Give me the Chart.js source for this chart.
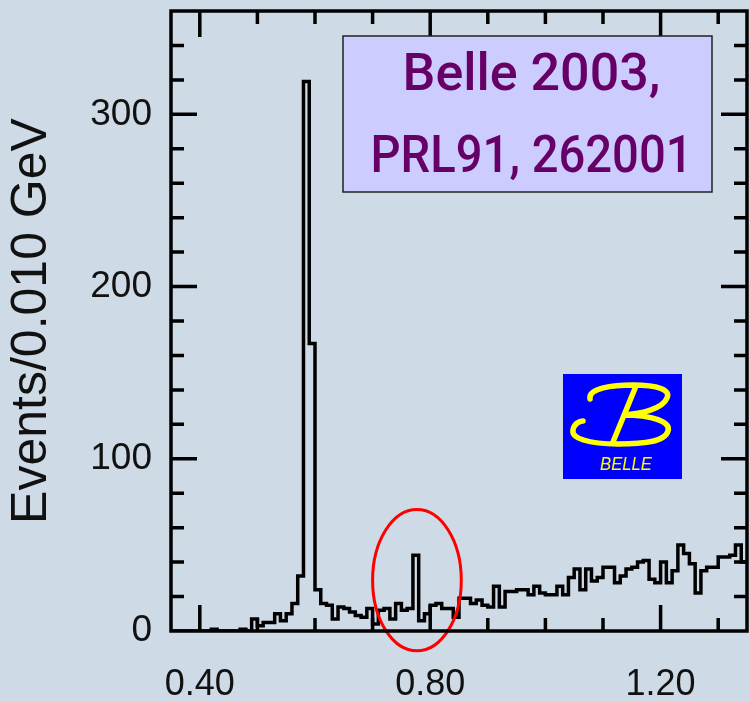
<!DOCTYPE html>
<html><head><meta charset="utf-8">
<script src="https://cdn.jsdelivr.net/npm/chart.js@4/dist/chart.umd.min.js"></script>
<style>
html,body{margin:0;padding:0;background:#cedae6;overflow:hidden;}
#c{display:block;}
</style></head>
<body>
<canvas id="c" width="750" height="702"></canvas>
<script>
// ---- data ----
const massStart = [
 0.35,0.36,0.37,0.38,0.39,0.40,0.41,0.42,0.43,0.44,
 0.45,0.46,0.47,0.48,0.49,0.50,0.51,0.52,0.53,0.54,
 0.55,0.56,0.57,0.58,0.59,0.60,0.61,0.62,0.63,0.64,
 0.65,0.66,0.67,0.68,0.69,0.70,0.71,0.72,0.73,0.74,
 0.75,0.76,0.77,0.78,0.79,0.80,0.81,0.82,0.83,0.84,
 0.85,0.86,0.87,0.88,0.89,0.90,0.91,0.92,0.93,0.94,
 0.95,0.96,0.97,0.98,0.99,1.00,1.01,1.02,1.03,1.04,
 1.05,1.06,1.07,1.08,1.09,1.10,1.11,1.12,1.13,1.14,
 1.15,1.16,1.17,1.18,1.19,1.20,1.21,1.22,1.23,1.24,
 1.25,1.26,1.27,1.28,1.29,1.30,1.31,1.32,1.33,1.34];
const binWidth = 0.01;
const events = [
 0,0,0,0,0,0,0,1,0,0,
 0,0,1,0,7,3,5,5,10,6,
 10,16,32,319,167,24,16,15,7,14,
 13,11,9,8,13,4,12,13,7,16,
 12,13,44,6,10,15,16,13,13,8,
 19,19,16,18,15,14,26,14,23,23,
 24,24,21,26,22,21,21,26,21,31,
 36,24,36,29,31,37,37,28,32,36,
 37,40,41,30,28,40,28,35,50,45,
 39,22,35,37,37,43,43,44,50,40];

const xMinorTicks = [0.4,0.5,0.6,0.7,0.8,0.9,1.0,1.1,1.2,1.3];
const xLabelValues = [0.4,0.8,1.2];
const xTickLabels = ['0.40','0.80','1.20'];
const yMinorTicks = [20,40,60,80,100,120,140,160,180,200,220,240,260,280,300,320,340];
const yLabelValues = [0,100,200,300];
const yTickLabels = ['0','100','200','300'];
const yTitle = 'Events/0.010 GeV';
const boxLines = ['Belle 2003,', 'PRL91, 262001'];
const logoText = 'BELLE';
// highlighted region (data units)
const highlight = {mass:0.777, events:29.5, halfMass:0.077, halfEvents:41};

const points = massStart.map((m,i)=>({x:m, y:events[i]}));
points.push({x: massStart[massStart.length-1] + binWidth, y: events[events.length-1]});

const BG = '#cedae6';
const FONT = '"Liberation Sans", Arial, Helvetica, sans-serif';

const decor = {
  id:'decor',
  beforeDraw(chart){
    const c = chart.ctx;
    c.save(); c.fillStyle = BG; c.fillRect(0,0,chart.width,chart.height); c.restore();
  },
  afterDatasetsDraw(chart){
    const c = chart.ctx, a = chart.chartArea, xs = chart.scales.x, ys = chart.scales.y;
    c.save();
    // red ellipse
    const cx = xs.getPixelForValue(highlight.mass), cy = ys.getPixelForValue(highlight.events);
    const rx = xs.getPixelForValue(highlight.mass + highlight.halfMass) - cx;
    const ry = cy - ys.getPixelForValue(highlight.events + highlight.halfEvents);
    c.beginPath(); c.ellipse(cx, cy, rx, ry, 0, 0, Math.PI*2);
    c.strokeStyle = '#ff0000'; c.lineWidth = 3; c.stroke();

    // frame + inner ticks
    c.strokeStyle = '#000'; c.lineWidth = 3.5; c.lineCap = 'butt';
    c.beginPath();
    xMinorTicks.forEach(v=>{
      const px = xs.getPixelForValue(v);
      const len = xLabelValues.some(t=>Math.abs(t-v)<1e-6) ? 26 : 13;
      c.moveTo(px, a.bottom); c.lineTo(px, a.bottom-len);
      c.moveTo(px, a.top); c.lineTo(px, a.top+len);
    });
    yMinorTicks.forEach(v=>{
      const py = ys.getPixelForValue(v);
      const len = yLabelValues.some(t=>Math.abs(t-v)<1e-6) ? 26 : 13;
      c.moveTo(a.left, py); c.lineTo(a.left+len, py);
      c.moveTo(a.right, py); c.lineTo(a.right-len, py);
    });
    c.stroke();
    c.lineJoin = 'miter';
    c.strokeRect(a.left, a.top, a.right-a.left, a.bottom-a.top);

    // text box
    const bx = 343, by = 36, bw = 369, bh = 156;
    c.fillStyle = '#ccccff'; c.fillRect(bx,by,bw,bh);
    c.strokeStyle = '#222'; c.lineWidth = 1.5; c.strokeRect(bx,by,bw,bh);
    c.fillStyle = '#660066'; c.textAlign = 'center'; c.textBaseline = 'alphabetic';
    c.font = '500 52px Roboto, "Noto Sans", sans-serif';
    c.fillText(boxLines[0], bx+bw/2+4, 90, 258);
    c.fillText(boxLines[1], bx+bw/2+4, 172, 322);

    // Belle logo
    const lx = 563, ly = 374, lw = 119, lh = 105;
    c.fillStyle = '#0000ff'; c.fillRect(lx,ly,lw,lh);
    c.strokeStyle = '#ffff00'; c.lineWidth = 5.5; c.lineCap = 'round';
    c.beginPath();
    c.moveTo(lx+27, ly+25);
    c.bezierCurveTo(lx+25, ly+14, lx+50, ly+11, lx+70, ly+11);
    c.bezierCurveTo(lx+95, ly+11, lx+108, ly+16, lx+104, ly+24);
    c.bezierCurveTo(lx+100, ly+34, lx+80, ly+40, lx+60, ly+41);
    c.bezierCurveTo(lx+90, ly+41, lx+108, ly+48, lx+105, ly+57);
    c.bezierCurveTo(lx+102, ly+68, lx+80, ly+70, lx+55, ly+70);
    c.bezierCurveTo(lx+25, ly+70, lx+8, ly+64, lx+10, ly+56);
    c.bezierCurveTo(lx+11, ly+50, lx+16, ly+47, lx+20, ly+47);
    c.moveTo(lx+73, ly+12); c.lineTo(lx+50, ly+68);
    c.stroke();
    c.fillStyle = '#ffff00'; c.font = 'italic 18px ' + FONT; c.textAlign = 'center';
    c.fillText(logoText, lx+63, ly+96, 52);
    c.restore();
  }
};

const noPad = s => { s.paddingTop = 0; s.paddingBottom = 0; s.paddingLeft = 0; s.paddingRight = 0; };

new Chart(document.getElementById('c'), {
  type:'line',
  data:{ datasets:[{ data:points, stepped:'before', borderColor:'#000', borderWidth:3.5,
     pointRadius:0, fill:false, tension:0, borderJoinStyle:'miter', borderCapStyle:'butt' }]},
  options:{
    responsive:false, animation:false, devicePixelRatio:1,
    layout:{ padding:{ top:11, right:3, left:0, bottom:0 } },
    plugins:{ legend:{display:false}, tooltip:{enabled:false} },
    scales:{
      x:{ type:'linear', min:0.35, max:1.35, border:{display:false},
          grid:{display:false, drawTicks:false},
          afterBuildTicks: s => { s.ticks = xMinorTicks.map(v=>({value:v})); },
          afterFit: s => { s.height = 71; noPad(s); },
          ticks:{ autoSkip:false, maxRotation:0, minRotation:0, padding:32, color:'#111',
                  font:{family:FONT, size:36},
                  callback: v => { const i = xLabelValues.findIndex(t=>Math.abs(t-v)<1e-6); return i>=0 ? xTickLabels[i] : ''; } } },
      y:{ type:'linear', min:0, max:360, border:{display:false},
          grid:{display:false, drawTicks:false},
          afterBuildTicks: s => { s.ticks = [0].concat(yMinorTicks).map(v=>({value:v})); },
          afterFit: s => { s.width = 171; noPad(s); },
          ticks:{ autoSkip:false, padding:19, color:'#111', font:{family:FONT, size:37},
                  callback: v => { const i = yLabelValues.findIndex(t=>Math.abs(t-v)<1e-6); return i>=0 ? yTickLabels[i] : ''; } },
          title:{ display:true, text:yTitle, color:'#111', font:{family:FONT, size:50}, padding:{top:2, bottom:0} } }
    }
  },
  plugins:[decor]
});
</script>
</body></html>
